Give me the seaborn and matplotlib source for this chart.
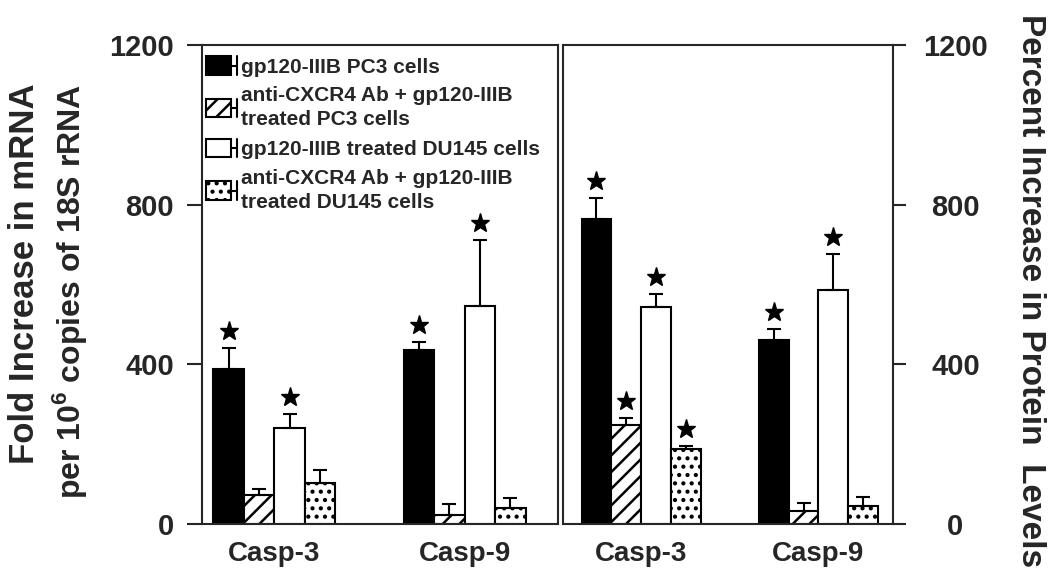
import matplotlib
matplotlib.use("Agg")
import matplotlib.pyplot as plt
from matplotlib.patches import Patch, Rectangle
from matplotlib.lines import Line2D
from matplotlib.legend_handler import HandlerBase
import pandas as pd
import seaborn as sns

genes = ["Casp-3", "Casp-9"]
groups = ["gp120-IIIB PC3 cells",
          "anti-CXCR4 Ab + gp120-IIIB\ntreated PC3 cells",
          "gp120-IIIB treated DU145 cells",
          "anti-CXCR4 Ab + gp120-IIIB\ntreated DU145 cells"]

# left panel: mRNA fold increase
mrna_casp3 = [388, 73, 240, 103]
mrna_casp9 = [436, 23, 546, 40]
mrna_err_casp3 = [53, 15, 36, 32]
mrna_err_casp9 = [20, 27, 165, 25]
mrna_star_casp3 = [1, 0, 1, 0]
mrna_star_casp9 = [1, 0, 1, 0]

# right panel: percent increase in protein
prot_casp3 = [764, 248, 544, 188]
prot_casp9 = [461, 33, 586, 45]
prot_err_casp3 = [53, 18, 32, 7]
prot_err_casp9 = [27, 19, 90, 22]
prot_star_casp3 = [1, 1, 1, 1]
prot_star_casp9 = [1, 0, 1, 0]

yticks = [0, 400, 800, 1200]

sns.set_style("ticks")
plt.rcParams["font.family"] = ["Liberation Sans", "DejaVu Sans"]
plt.rcParams["font.weight"] = "bold"
plt.rcParams["hatch.linewidth"] = 1.8
plt.rcParams["mathtext.fontset"] = "custom"
plt.rcParams["mathtext.rm"] = "Liberation Sans:bold"
plt.rcParams["mathtext.bf"] = "Liberation Sans:bold"


def make_df(v3, v9, e3, e9, s3, s9):
    rows = []
    for gene, vals, errs, stars in [("Casp-3", v3, e3, s3), ("Casp-9", v9, e9, s9)]:
        for g, v, e, s in zip(groups, vals, errs, stars):
            rows.append(dict(gene=gene, group=g, value=v, err=e, star=s))
    return pd.DataFrame(rows)


df_mrna = make_df(mrna_casp3, mrna_casp9, mrna_err_casp3, mrna_err_casp9,
                  mrna_star_casp3, mrna_star_casp9)
df_prot = make_df(prot_casp3, prot_casp9, prot_err_casp3, prot_err_casp9,
                  prot_star_casp3, prot_star_casp9)

colors = ["black", "white", "white", "white"]
hatches = [None, "//", None, ".."]

fig = plt.figure(figsize=(10.5, 5.83), dpi=100)
ax1 = fig.add_axes([202 / 1050, 59 / 583, 356 / 1050, 479 / 583])
ax2 = fig.add_axes([563 / 1050, 59 / 583, 330 / 1050, 479 / 583])


def draw(ax, df, width):
    sns.barplot(data=df, x="gene", y="value", hue="group", order=genes,
                hue_order=groups, width=width, errorbar=None, ax=ax,
                legend=False, saturation=1)
    conts = list(ax.containers)
    for i, cont in enumerate(conts):
        sub = df[df.group == groups[i]].set_index("gene").loc[genes]
        for bar, (_, r) in zip(cont.patches, sub.iterrows()):
            bar.set_facecolor(colors[i])
            bar.set_edgecolor("black")
            bar.set_linewidth(1.5)
            if hatches[i]:
                bar.set_hatch(hatches[i])
            xc = bar.get_x() + bar.get_width() / 2
            top = bar.get_height()
            ax.errorbar(xc, top, yerr=[[0], [r.err]], fmt="none", ecolor="black",
                        elinewidth=1.5, capsize=5, capthick=1.5, zorder=1)
            if r.star:
                ax.plot(xc, top + r.err + 42, marker="*", ms=14, color="black",
                        linestyle="none")
    ax.set_ylim(0, 1200)
    ax.set_yticks(yticks)
    ax.set_xlabel("")
    ax.set_ylabel("")
    for s in ax.spines.values():
        s.set_visible(True)
        s.set_linewidth(1.5)
    ax.tick_params(axis="x", length=0, labelsize=20, pad=12)
    ax.tick_params(axis="y", length=11, width=1.5, labelsize=21, pad=9)


draw(ax1, df_mrna, 0.64)
ax1.set_xlim(-0.38, 1.49)

draw(ax2, df_prot, 0.67)
ax2.set_xlim(-0.44, 1.42)
ax2.yaxis.tick_right()
ax2.tick_params(axis="y", length=9, pad=36)
for lab in ax2.get_yticklabels():
    lab.set_horizontalalignment("center")


class HandlerBarErr(HandlerBase):
    # bar swatch followed by a sideways error-bar glyph
    def create_artists(self, legend, orig_handle, xdescent, ydescent, width,
                       height, fontsize, trans):
        w = width * 0.78
        rect = Rectangle((-xdescent, -ydescent), w, height,
                         facecolor=orig_handle.get_facecolor(),
                         edgecolor="black", hatch=orig_handle.get_hatch(),
                         linewidth=1.5, transform=trans)
        mid = -ydescent + height / 2
        x1 = -xdescent + width
        l1 = Line2D([-xdescent + w, x1], [mid, mid], color="black", lw=1.5,
                    transform=trans)
        l2 = Line2D([x1, x1], [-ydescent, -ydescent + height], color="black",
                    lw=1.5, transform=trans)
        return [rect, l1, l2]


handles = [Patch(facecolor=colors[i], edgecolor="black", hatch=hatches[i])
           for i in range(4)]
leg = ax1.legend(handles, groups, loc="upper left", bbox_to_anchor=(0.0, 0.985),
                 frameon=False, prop={"weight": "bold", "size": 15}, handlelength=1.5,
                 handleheight=1.0, handletextpad=0.15, labelspacing=0.45,
                 borderaxespad=0.0, borderpad=0.2, handler_map={Patch: HandlerBarErr()})
for t in leg.get_texts():
    t.set_linespacing(1.35)

fig.text(25 / 1050, 1 - 274 / 583, "Fold Increase in mRNA",
         rotation=90, ha="center", va="center", fontsize=25)
fig.text(70 / 1050, 1 - 292 / 583, "per 10$^{6}$ copies of 18S rRNA",
         rotation=90, ha="center", va="center", fontsize=23)
fig.text(1030 / 1050, 1 - 291 / 583, "Percent Increase in Protein  Levels",
         rotation=270, ha="center", va="center", fontsize=24)

fig.savefig("out.png", dpi=100)
